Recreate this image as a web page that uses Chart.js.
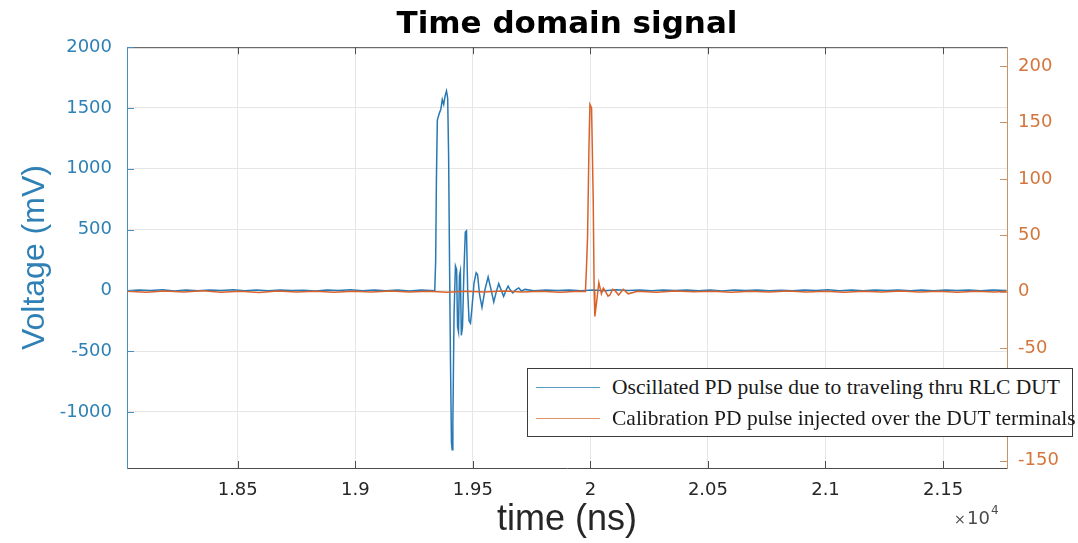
<!DOCTYPE html>
<html>
<head>
<meta charset="utf-8">
<title>Time domain signal</title>
<script src="https://cdn.jsdelivr.net/npm/chart.js@4.4.0/dist/chart.umd.min.js"></script>
<style>
  body { margin: 0; background: #fff; }
  #wrap { position: relative; width: 1078px; height: 543px; }
  #legendBox {
    position: absolute; left: 527px; top: 368px; width: 544px; height: 67px;
    border: 1px solid #3c3c3c; background: #fff;
    font-family: 'Liberation Serif', 'Times New Roman', serif; font-size: 21.5px; color: #1a1a1a;
  }
  .row { position: absolute; left: 0; width: 100%; height: 24px; line-height: 24px; white-space: nowrap; }
  .swatch { position: absolute; left: 8px; top: 12px; width: 64px; height: 0; border-top: 1.5px solid; }
  .label { position: absolute; left: 84px; top: 0; }
</style>
</head>
<body>
<div id="wrap">
  <canvas id="signalChart" width="1078" height="543"></canvas>
  <div id="legendBox">
    <div class="row" style="top:6px"><span class="swatch" style="border-color:#5b9cc6"></span><span class="label">Oscillated PD pulse due to traveling thru RLC DUT</span></div>
    <div class="row" style="top:37px"><span class="swatch" style="border-color:#e0946a"></span><span class="label">Calibration PD pulse injected over the DUT terminals</span></div>
  </div>
</div>
<script>
// blue trace, left axis (mV) - time in ns
const blueTime = [
  18030, 18080, 18130, 18180, 18230, 18280, 18330, 18380, 18430, 18480, 18530, 18580, 18630, 18680,
  18730, 18780, 18830, 18880, 18930, 18980, 19030, 19080, 19130, 19180, 19230, 19280, 19320,
  19338, 19342, 19345, 19349, 19358, 19364, 19370, 19376, 19382, 19388, 19393, 19397, 19401, 19405,
  19409, 19412, 19415, 19420, 19426, 19431, 19435, 19439, 19443, 19447, 19451, 19456, 19462, 19468,
  19473, 19478, 19484, 19490, 19496, 19505, 19514, 19520, 19529, 19539, 19552, 19565, 19577, 19589,
  19600, 19610, 19621, 19631, 19641, 19650, 19660, 19670, 19682, 19695, 19707, 19722,
  19760, 19810, 19860, 19910, 19960, 20010, 20060, 20110, 20160, 20210, 20260, 20310, 20360, 20410,
  20460, 20510, 20560, 20610, 20660, 20710, 20760, 20810, 20860, 20910, 20960, 21010, 21060, 21110,
  21160, 21210, 21260, 21310, 21360, 21410, 21460, 21510, 21560, 21610, 21660, 21710, 21770
];
const blueVolt = [
  -4, 3, -2, 5, -6, 2, -3, 4, -1, 6, -4, 2, -3, 4,
  -2, 1, -5, 3, -2, 5, -4, 2, -3, 4, -5, 2, -1,
  -3, 250, 900, 1400, 1460, 1490, 1570, 1530, 1600, 1640, 1580, 1100, 200, -600,
  -1250, -1310, -1100, -200, 200, 170, -300, -340, 120, 160, -370, -300, 150, 480,
  490, 0, -250, -270, -150, 60, 145, 130, -40, -140, 10, 110, 10, -95,
  -10, 55, 0, -50, 0, 35, 0, -20, 5, 20, -5, 8,
  -3, 4, -2, 3, -4, 2, -3, 5, -2, 2, -4, 3, -1, 4,
  -3, 2, -5, 3, -2, 4, -3, 1, -4, 3, -2, 5, -3, 2,
  -4, 3, -1, 4, -3, 2, -4, 3, -2, 4, -3, 2, -2
];

// orange trace, right axis
const orangeTime = [
  18030, 18110, 18190, 18270, 18350, 18430, 18510, 18590, 18670, 18750, 18830, 18910, 18990,
  19070, 19150, 19230, 19310, 19390, 19470, 19550, 19630, 19710, 19790, 19870, 19950,
  19979, 19984, 19988, 19994, 19998, 20005, 20012, 20016, 20019, 20026, 20036, 20047, 20055,
  20062, 20075, 20083, 20095, 20104, 20120, 20140, 20161,
  20200, 20280, 20360, 20440, 20520, 20600, 20680, 20760, 20840, 20920, 21000, 21080, 21160,
  21240, 21320, 21400, 21480, 21560, 21640, 21720, 21770
];
const orangeVolt = [
  0.3, -0.5, 0.5, -0.3, 0.7, -0.5, 0.3, -0.7, 0.5, -0.3, 0.4, -0.6, 0.3,
  -0.4, 0.6, -0.3, 0.4, -0.5, 0.2, -0.4, 0.5, -0.3, 0.3, -0.5, 0.2,
  0, 25, 49, 129, 166, 163, 82, 0, -22, -10, 8, -2, 3,
  1, -4, -3, 2, 1, -3, 2, -2,
  0.3, -0.5, 0.6, -0.2, 0.4, -0.6, 0.3, -0.4, 0.5, -0.4, 0.2, -0.5, 0.3,
  -0.3, 0.6, -0.4, 0.3, -0.5, 0.4, -0.3, 0.2
];

const xTicks = [18500, 19000, 19500, 20000, 20500, 21000, 21500];
const leftTicks = [-1000, -500, 0, 500, 1000, 1500, 2000];
const rightTicks = [-150, -100, -50, 0, 50, 100, 150, 200];
const xRange = [18029, 21772];
const leftRange = [-1461, 2000];
const rightRange = [-156.5, 216.8];

const BLUE = '#2879b3';
const ORANGE = '#d9622b';
const BLUE_TEXT = '#2e80b5';
const ORANGE_TEXT = '#d4763c';

// MATLAB style box: inward ticks, top frame line, x10^4 exponent
const frameTicks = {
    id: 'frameTicks',
    afterDraw(chart) {
        const { ctx, chartArea: a, scales } = chart;
        ctx.save();
        ctx.lineWidth = 1;

        ctx.strokeStyle = '#4d4d4d';
        ctx.beginPath();
        ctx.moveTo(a.left, a.top + 0.5);
        ctx.lineTo(a.right, a.top + 0.5);
        scales.x.ticks.forEach(t => {
            const px = Math.round(scales.x.getPixelForValue(t.value)) + 0.5;
            ctx.moveTo(px, a.bottom);
            ctx.lineTo(px, a.bottom - 7);
            ctx.moveTo(px, a.top);
            ctx.lineTo(px, a.top + 7);
        });
        ctx.stroke();

        ctx.strokeStyle = '#4a8fbf';
        ctx.beginPath();
        scales.y.ticks.forEach(t => {
            const py = Math.round(scales.y.getPixelForValue(t.value)) + 0.5;
            ctx.moveTo(a.left, py);
            ctx.lineTo(a.left + 7, py);
        });
        ctx.stroke();

        ctx.strokeStyle = '#c9936a';
        ctx.beginPath();
        scales.y1.ticks.forEach(t => {
            const py = Math.round(scales.y1.getPixelForValue(t.value)) + 0.5;
            ctx.moveTo(a.right, py);
            ctx.lineTo(a.right - 7, py);
        });
        ctx.stroke();

        ctx.fillStyle = '#4a4a4a';
        ctx.textBaseline = 'alphabetic';
        ctx.font = '14px "DejaVu Sans"';
        ctx.fillText('\u00d7', 954, 524);
        ctx.font = '18px "DejaVu Sans"';
        ctx.fillText('10', 967, 524);
        ctx.font = '12px "DejaVu Sans"';
        ctx.fillText('4', 991, 514);
        ctx.restore();
    }
};

const ctx = document.getElementById('signalChart').getContext('2d');
const signalChart = new Chart(ctx, {
    type: 'line',
    data: {
        datasets: [
            {
                label: 'Oscillated PD pulse due to traveling thru RLC DUT',
                data: blueTime.map((t, i) => ({ x: t, y: blueVolt[i] })),
                yAxisID: 'y',
                borderColor: BLUE,
                borderWidth: 1.5,
                pointRadius: 0,
                tension: 0,
                order: 2
            },
            {
                label: 'Calibration PD pulse injected over the DUT terminals',
                data: orangeTime.map((t, i) => ({ x: t, y: orangeVolt[i] })),
                yAxisID: 'y1',
                borderColor: ORANGE,
                borderWidth: 1.5,
                pointRadius: 0,
                tension: 0,
                order: 1
            }
        ]
    },
    options: {
        responsive: false,
        animation: false,
        layout: { padding: 0 },
        plugins: {
            legend: { display: false },
            tooltip: { enabled: false },
            title: {
                display: true,
                text: 'Time domain signal',
                fullSize: false,
                color: '#000',
                font: { family: 'DejaVu Sans', size: 31, weight: 'bold' },
                padding: { top: 6, bottom: 4 }
            }
        },
        scales: {
            x: {
                type: 'linear',
                min: xRange[0],
                max: xRange[1],
                afterFit: s => { s.height = 75; },
                afterBuildTicks: s => { s.ticks = xTicks.map(v => ({ value: v })); },
                ticks: {
                    color: '#262626',
                    padding: 12,
                    maxRotation: 0,
                    font: { family: 'DejaVu Sans', size: 18 },
                    callback: v => String(+(v / 1e4).toFixed(4))
                },
                grid: { color: '#e6e6e6', drawTicks: false },
                border: { color: '#4d4d4d', width: 1 },
                title: {
                    display: true,
                    text: 'time (ns)',
                    color: '#262626',
                    font: { family: 'Liberation Sans', size: 36 },
                    padding: { top: 0, bottom: 1 }
                }
            },
            y: {
                position: 'left',
                min: leftRange[0],
                max: leftRange[1],
                afterFit: s => { s.width = 127; },
                afterBuildTicks: s => { s.ticks = leftTicks.map(v => ({ value: v })); },
                ticks: {
                    color: BLUE_TEXT,
                    padding: 15,
                    font: { family: 'DejaVu Sans', size: 18 },
                    callback: v => String(v)
                },
                grid: { color: '#e6e6e6', drawTicks: false },
                border: { color: '#4a8fbf', width: 1 },
                title: {
                    display: true,
                    text: 'Voltage (mV)',
                    color: BLUE_TEXT,
                    font: { family: 'Liberation Sans', size: 32 },
                    padding: { top: 16, bottom: 0 }
                }
            },
            y1: {
                position: 'right',
                min: rightRange[0],
                max: rightRange[1],
                afterFit: s => { s.width = 71; },
                afterBuildTicks: s => { s.ticks = rightTicks.map(v => ({ value: v })); },
                ticks: {
                    color: ORANGE_TEXT,
                    padding: 11,
                    font: { family: 'DejaVu Sans', size: 18 },
                    callback: v => String(v)
                },
                grid: { display: false, drawTicks: false },
                border: { color: '#c9936a', width: 1 }
            }
        }
    },
    plugins: [frameTicks]
});
</script>
</body>
</html>
